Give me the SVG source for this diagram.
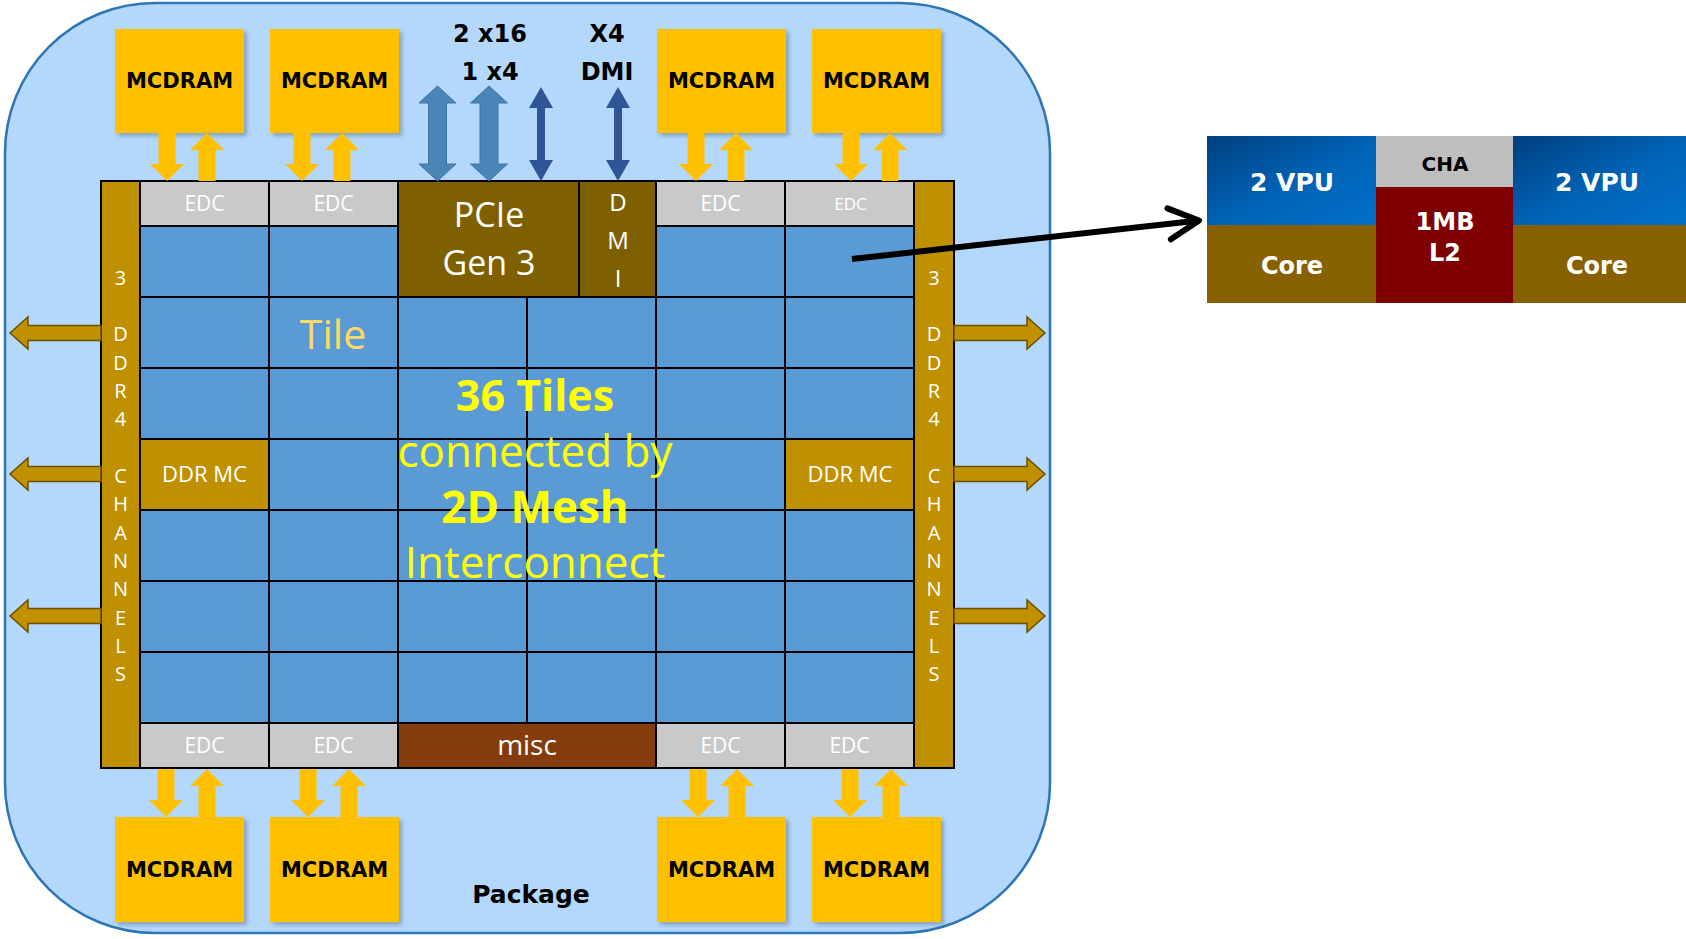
<svg xmlns="http://www.w3.org/2000/svg" xmlns:xlink="http://www.w3.org/1999/xlink" width="1686" height="939" viewBox="0 0 1686 939">
<defs>
<style>
.pkg{fill:#b4d8fb;stroke:#2e75b6;stroke-width:2.5}
.tile{fill:#5b9bd5;stroke:#000;stroke-width:2}
.edc{fill:#c9c9c9;stroke:#000;stroke-width:2}
.gold{fill:#bf9000;stroke:#000;stroke-width:2}
.olive{fill:#7f6000;stroke:#000;stroke-width:2}
.misc{fill:#843c0c;stroke:#000;stroke-width:2}
.mc{fill:#ffc000;filter:url(#sh)}
.os{font-family:'Open Sans','DejaVu Sans',sans-serif;text-anchor:middle}
.dv{font-family:'DejaVu Sans','Liberation Sans',sans-serif;font-weight:bold;text-anchor:middle}
.w{fill:#fff}
.edct{font-size:21px}
.mct{font-size:21px;fill:#000}
.ddr{font-size:20px;fill:#fff}
.yarr{fill:#ffc000}
.garr{fill:#bf9000;stroke:#6b5000;stroke-width:1.5}
.thick{fill:#4a85b8;stroke:#3f75a5;stroke-width:1}
.thin{fill:#2f5597}
.big{font-size:44px;fill:#ffff00}
</style>
<filter id="sh" x="-10%" y="-10%" width="130%" height="130%">
<feDropShadow dx="3" dy="3" stdDeviation="2" flood-color="#000" flood-opacity="0.25"/>
</filter>
<linearGradient id="vpu" x1="0" y1="0" x2="1" y2="1">
<stop offset="0" stop-color="#00407f"/>
<stop offset="0.55" stop-color="#0064b8"/>
<stop offset="1" stop-color="#0070c8"/>
</linearGradient>
<path id="ydown" d="M-8.5,0 H8.5 V31 H17 L0,48 L-17,31 H-8.5 Z"/>
<path id="yup" d="M0,0 L17,17 H8.5 V48 H-8.5 V17 H-17 Z"/>
<path id="larr" d="M101,-7.5 H28 V-16 L10,0 L28,16 V7.5 H101 Z"/>
<path id="rarr" d="M954,-7.5 H1027 V-16 L1045,0 L1027,16 V7.5 H954 Z"/>
<path id="thickarr" d="M0,86 L18.5,103 H9 V164 H18.5 L0,181 L-18.5,164 H-9 V103 H-18.5 Z"/>
<path id="thinarr" d="M0,87 L12,108 H4 V160 H12 L0,181 L-12,160 H-4 V108 H-12 Z"/>
<marker id="chev" markerUnits="userSpaceOnUse" markerWidth="44" markerHeight="44" viewBox="0 0 44 44" refX="36" refY="22" orient="auto">
<path d="M6,6.5 L36,22 L6,37.5" fill="none" stroke="#000" stroke-width="6" stroke-linecap="round" stroke-linejoin="round"/>
</marker>
</defs>

<g id="package">
<rect class="pkg" x="5" y="3" width="1045" height="930" rx="150" ry="150"/>
<text class="dv" x="531" y="903" font-size="25" fill="#000">Package</text>
</g>

<g id="ddr-bar-left">
<rect class="gold" x="101" y="181" width="39" height="587"/>
<text class="os ddr">
<tspan x="120.5" y="284.5">3</tspan><tspan x="120.5" y="341.2">D</tspan><tspan x="120.5" y="369.5">D</tspan><tspan x="120.5" y="397.9">R</tspan><tspan x="120.5" y="426.2">4</tspan><tspan x="120.5" y="482.9">C</tspan><tspan x="120.5" y="511.3">H</tspan><tspan x="120.5" y="539.6">A</tspan><tspan x="120.5" y="568">N</tspan><tspan x="120.5" y="596.3">N</tspan><tspan x="120.5" y="624.7">E</tspan><tspan x="120.5" y="653">L</tspan><tspan x="120.5" y="681.4">S</tspan>
</text>
</g>
<g id="ddr-bar-right">
<rect class="gold" x="914" y="181" width="40" height="587"/>
<text class="os ddr">
<tspan x="934" y="284.5">3</tspan><tspan x="934" y="341.2">D</tspan><tspan x="934" y="369.5">D</tspan><tspan x="934" y="397.9">R</tspan><tspan x="934" y="426.2">4</tspan><tspan x="934" y="482.9">C</tspan><tspan x="934" y="511.3">H</tspan><tspan x="934" y="539.6">A</tspan><tspan x="934" y="568">N</tspan><tspan x="934" y="596.3">N</tspan><tspan x="934" y="624.7">E</tspan><tspan x="934" y="653">L</tspan><tspan x="934" y="681.4">S</tspan>
</text>
</g>

<g id="tiles">
<rect class="tile" x="140" y="226" width="129" height="71"/>
<rect class="tile" x="269" y="226" width="129" height="71"/>
<rect class="tile" x="656" y="226" width="129" height="71"/>
<rect class="tile" x="785" y="226" width="129" height="71"/>
<rect class="tile" x="140" y="297" width="129" height="71"/>
<rect class="tile" x="269" y="297" width="129" height="71"/>
<rect class="tile" x="398" y="297" width="129" height="71"/>
<rect class="tile" x="527" y="297" width="129" height="71"/>
<rect class="tile" x="656" y="297" width="129" height="71"/>
<rect class="tile" x="785" y="297" width="129" height="71"/>
<rect class="tile" x="140" y="368" width="129" height="71"/>
<rect class="tile" x="269" y="368" width="129" height="71"/>
<rect class="tile" x="398" y="368" width="129" height="71"/>
<rect class="tile" x="527" y="368" width="129" height="71"/>
<rect class="tile" x="656" y="368" width="129" height="71"/>
<rect class="tile" x="785" y="368" width="129" height="71"/>
<rect class="tile" x="269" y="439" width="129" height="71"/>
<rect class="tile" x="398" y="439" width="129" height="71"/>
<rect class="tile" x="527" y="439" width="129" height="71"/>
<rect class="tile" x="656" y="439" width="129" height="71"/>
<rect class="tile" x="140" y="510" width="129" height="71"/>
<rect class="tile" x="269" y="510" width="129" height="71"/>
<rect class="tile" x="398" y="510" width="129" height="71"/>
<rect class="tile" x="527" y="510" width="129" height="71"/>
<rect class="tile" x="656" y="510" width="129" height="71"/>
<rect class="tile" x="785" y="510" width="129" height="71"/>
<rect class="tile" x="140" y="581" width="129" height="71"/>
<rect class="tile" x="269" y="581" width="129" height="71"/>
<rect class="tile" x="398" y="581" width="129" height="71"/>
<rect class="tile" x="527" y="581" width="129" height="71"/>
<rect class="tile" x="656" y="581" width="129" height="71"/>
<rect class="tile" x="785" y="581" width="129" height="71"/>
<rect class="tile" x="140" y="652" width="129" height="71"/>
<rect class="tile" x="269" y="652" width="129" height="71"/>
<rect class="tile" x="398" y="652" width="129" height="71"/>
<rect class="tile" x="527" y="652" width="129" height="71"/>
<rect class="tile" x="656" y="652" width="129" height="71"/>
<rect class="tile" x="785" y="652" width="129" height="71"/>
<text class="os" x="333" y="349" font-size="41" fill="#ffd966">Tile</text>
</g>

<g id="mesh-label" class="os big">
<text x="535" y="411" font-weight="bold" font-size="43">36 Tiles</text>
<text x="535" y="467">connected by</text>
<text x="535" y="523" font-weight="bold">2D Mesh</text>
<text x="535" y="578">Interconnect</text>
</g>

<g id="ddr-mc-left">
<rect class="gold" x="140" y="439" width="129" height="71"/>
<text class="os w" x="204.5" y="482" font-size="22">DDR MC</text>
</g>
<g id="ddr-mc-right">
<rect class="gold" x="785" y="439" width="129" height="71"/>
<text class="os w" x="850" y="482" font-size="22">DDR MC</text>
</g>

<g id="pcie">
<rect class="olive" x="398" y="181" width="181" height="116"/>
<text class="os w" x="489" y="227" font-size="34">PCIe</text>
<text class="os w" x="489" y="275" font-size="34">Gen 3</text>
</g>
<g id="dmi">
<rect class="olive" x="579" y="181" width="77" height="116"/>
<text class="os w" font-size="24"><tspan x="618" y="211">D</tspan><tspan x="618" y="249">M</tspan><tspan x="618" y="287">I</tspan></text>
</g>

<g id="edc-top-1"><rect class="edc" x="140" y="181" width="129" height="45"/><text class="os w edct" x="204.5" y="211">EDC</text></g>
<g id="edc-top-2"><rect class="edc" x="269" y="181" width="129" height="45"/><text class="os w edct" x="333.5" y="211">EDC</text></g>
<g id="edc-top-3"><rect class="edc" x="656" y="181" width="129" height="45"/><text class="os w edct" x="720.5" y="211">EDC</text></g>
<g id="edc-top-4"><rect class="edc" x="785" y="181" width="129" height="45"/><text class="os w" x="850.5" y="210" font-size="17">EDC</text></g>
<g id="edc-bot-1"><rect class="edc" x="140" y="723" width="129" height="45"/><text class="os w edct" x="204.5" y="753">EDC</text></g>
<g id="edc-bot-2"><rect class="edc" x="269" y="723" width="129" height="45"/><text class="os w edct" x="333.5" y="753">EDC</text></g>
<g id="edc-bot-3"><rect class="edc" x="656" y="723" width="129" height="45"/><text class="os w edct" x="720.5" y="753">EDC</text></g>
<g id="edc-bot-4"><rect class="edc" x="785" y="723" width="129" height="45"/><text class="os w edct" x="849.5" y="753">EDC</text></g>
<g id="misc"><rect class="misc" x="398" y="723" width="258" height="45"/><text class="os w" x="527" y="755" font-size="28">misc</text></g>

<g id="mcdram-top-1"><rect class="mc" x="115" y="29" width="129" height="104"/><text class="dv mct" x="179.5" y="88">MCDRAM</text></g>
<g id="mcdram-top-2"><rect class="mc" x="270" y="29" width="129" height="104"/><text class="dv mct" x="334.5" y="88">MCDRAM</text></g>
<g id="mcdram-top-3"><rect class="mc" x="657" y="29" width="129" height="104"/><text class="dv mct" x="721.5" y="88">MCDRAM</text></g>
<g id="mcdram-top-4"><rect class="mc" x="812" y="29" width="129" height="104"/><text class="dv mct" x="876.5" y="88">MCDRAM</text></g>
<g id="mcdram-bot-1"><rect class="mc" x="115" y="817" width="129" height="105"/><text class="dv mct" x="179.5" y="877">MCDRAM</text></g>
<g id="mcdram-bot-2"><rect class="mc" x="270" y="817" width="129" height="105"/><text class="dv mct" x="334.5" y="877">MCDRAM</text></g>
<g id="mcdram-bot-3"><rect class="mc" x="657" y="817" width="129" height="105"/><text class="dv mct" x="721.5" y="877">MCDRAM</text></g>
<g id="mcdram-bot-4"><rect class="mc" x="812" y="817" width="129" height="105"/><text class="dv mct" x="876.5" y="877">MCDRAM</text></g>

<g id="io-labels" class="dv" font-size="24" fill="#000">
<text x="490" y="42">2 x16</text>
<text x="490" y="80">1 x4</text>
<text x="607" y="42">X4</text>
<text x="607" y="80">DMI</text>
</g>

<g id="tile-detail">
<rect x="1207" y="136" width="169" height="89" fill="url(#vpu)"/>
<rect x="1207" y="225" width="169" height="78" fill="#876100"/>
<rect x="1376" y="136" width="137" height="51" fill="#bfbfbf"/>
<rect x="1376" y="187" width="137" height="116" fill="#7f0000"/>
<rect x="1513" y="136" width="173" height="89" fill="url(#vpu)"/>
<rect x="1513" y="225" width="173" height="78" fill="#876100"/>
<text class="dv w" x="1292" y="191" font-size="25">2 VPU</text>
<text class="dv w" x="1292" y="274" font-size="24">Core</text>
<text class="dv" x="1445" y="171" font-size="20" fill="#000">CHA</text>
<text class="dv w" x="1445" y="230" font-size="24">1MB</text>
<text class="dv w" x="1445" y="261" font-size="24">L2</text>
<text class="dv w" x="1597" y="191" font-size="25">2 VPU</text>
<text class="dv w" x="1597" y="274" font-size="24">Core</text>
</g>

<g id="connectors">
<use href="#ydown" class="yarr" x="167" y="133"/><use href="#yup" class="yarr" x="207" y="133"/>
<use href="#ydown" class="yarr" x="302" y="133"/><use href="#yup" class="yarr" x="342" y="133"/>
<use href="#ydown" class="yarr" x="696" y="133"/><use href="#yup" class="yarr" x="736" y="133"/>
<use href="#ydown" class="yarr" x="851" y="133"/><use href="#yup" class="yarr" x="890" y="133"/>
<use href="#ydown" class="yarr" x="166" y="769"/><use href="#yup" class="yarr" x="207" y="769"/>
<use href="#ydown" class="yarr" x="308" y="769"/><use href="#yup" class="yarr" x="349" y="769"/>
<use href="#ydown" class="yarr" x="698" y="769"/><use href="#yup" class="yarr" x="737" y="769"/>
<use href="#ydown" class="yarr" x="850" y="769"/><use href="#yup" class="yarr" x="891" y="769"/>
<use href="#larr" class="garr" y="333"/><use href="#larr" class="garr" y="474"/><use href="#larr" class="garr" y="616"/>
<use href="#rarr" class="garr" y="333"/><use href="#rarr" class="garr" y="474"/><use href="#rarr" class="garr" y="616"/>
<use href="#thickarr" class="thick" x="437.5"/>
<use href="#thickarr" class="thick" x="489"/>
<use href="#thinarr" class="thin" x="541"/>
<use href="#thinarr" class="thin" x="618"/>
<path d="M852,259 L1199,220.5" fill="none" stroke="#000" stroke-width="6" marker-end="url(#chev)"/>
</g>
</svg>
